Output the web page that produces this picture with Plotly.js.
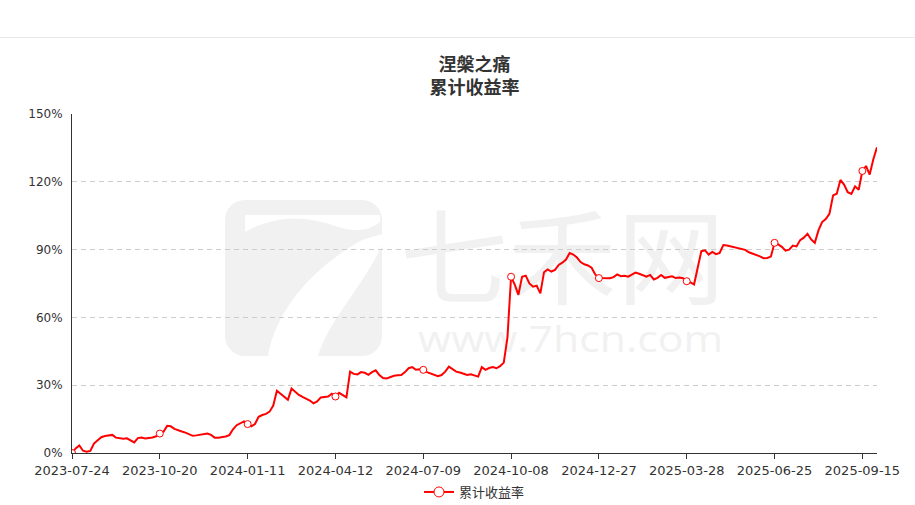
<!DOCTYPE html>
<html>
<head>
<meta charset="utf-8">
<script src="https://cdn.plot.ly/plotly-3.0.1.min.js"></script>
<style>
  html, body { margin: 0; padding: 0; background: #ffffff; }
  #wrap { position: relative; width: 915px; height: 505px; overflow: hidden; }
  #bg { position: absolute; left: 0; top: 0; z-index: 0; }
  #chart { position: absolute; left: 0; top: 0; width: 915px; height: 505px; z-index: 1; }
</style>
</head>
<body>
<div id="wrap">
  <svg id="bg" width="915" height="505" xmlns="http://www.w3.org/2000/svg">
    <line x1="0" y1="37.5" x2="915" y2="37.5" stroke="#e8e8e8" stroke-width="1"/>
    <rect x="225" y="200" width="157" height="156" rx="20" ry="20" fill="#f1f1f1"/>
    <path d="M245,215 L380,215 L380,222 C368,232 352,232 335,226 C305,215 275,215 245,232 Z" fill="#ffffff"/>
    <path d="M362,240 L382,234 L382,246 C360,290 328,322 318,356 L268,356 C276,310 312,268 362,240 Z" fill="#ffffff"/>
    <text x="400" y="297" font-family="Noto Sans CJK SC" font-size="104" fill="#f1f1f1" textLength="325" lengthAdjust="spacingAndGlyphs">七禾网</text>
    <text x="418" y="352" font-family="Open Sans" font-size="36" fill="#f1f1f1" textLength="305" lengthAdjust="spacingAndGlyphs">www.7hcn.com</text>
  </svg>
  <div id="chart"></div>
</div>
<script>
// ---- data ----
const seriesName = '累计收益率';
const chartTitle = '涅槃之痛<br>累计收益率';

const dates = [
  '2023-07-24','2023-07-27','2023-07-31','2023-08-03','2023-08-07','2023-08-10','2023-08-14','2023-08-17',
  '2023-08-21','2023-08-24','2023-08-28','2023-08-31','2023-09-04','2023-09-07','2023-09-11','2023-09-14',
  '2023-09-18','2023-09-21','2023-09-25','2023-09-28','2023-10-09','2023-10-12','2023-10-16','2023-10-18',
  '2023-10-20','2023-10-24','2023-10-26','2023-10-30','2023-11-02','2023-11-06','2023-11-09','2023-11-13',
  '2023-11-16','2023-11-20','2023-11-23','2023-11-27','2023-11-30','2023-12-04','2023-12-07','2023-12-11',
  '2023-12-14','2023-12-18','2023-12-21','2023-12-25','2023-12-28','2024-01-02','2024-01-05','2024-01-08',
  '2024-01-11','2024-01-15','2024-01-18','2024-01-22','2024-01-25','2024-01-29','2024-02-01','2024-02-05',
  '2024-02-08','2024-02-20','2024-02-22','2024-02-26','2024-02-29','2024-03-04','2024-03-07','2024-03-11',
  '2024-03-14','2024-03-18','2024-03-21','2024-03-25','2024-03-28','2024-04-01','2024-04-03','2024-04-09',
  '2024-04-12','2024-04-16','2024-04-18','2024-04-22','2024-04-25','2024-04-29','2024-05-07','2024-05-09',
  '2024-05-13','2024-05-16','2024-05-20','2024-05-23','2024-05-27','2024-05-30','2024-06-03','2024-06-06',
  '2024-06-11','2024-06-13','2024-06-17','2024-06-20','2024-06-24','2024-06-27','2024-07-01','2024-07-04',
  '2024-07-09','2024-07-11','2024-07-15','2024-07-18','2024-07-22','2024-07-25','2024-07-29','2024-08-01',
  '2024-08-05','2024-08-08','2024-08-12','2024-08-15','2024-08-19','2024-08-22','2024-08-26','2024-08-29',
  '2024-09-02','2024-09-05','2024-09-09','2024-09-12','2024-09-18','2024-09-23','2024-09-26','2024-09-30',
  '2024-10-08','2024-10-10','2024-10-14','2024-10-17','2024-10-21','2024-10-24','2024-10-28','2024-10-31',
  '2024-11-04','2024-11-07','2024-11-11','2024-11-14','2024-11-18','2024-11-21','2024-11-25','2024-11-28',
  '2024-12-02','2024-12-05','2024-12-09','2024-12-12','2024-12-16','2024-12-19','2024-12-23','2024-12-25',
  '2024-12-27','2024-12-31','2025-01-03','2025-01-07','2025-01-10','2025-01-14','2025-01-17','2025-01-21',
  '2025-01-24','2025-02-05','2025-02-07','2025-02-11','2025-02-14','2025-02-18','2025-02-21','2025-02-25',
  '2025-02-28','2025-03-04','2025-03-07','2025-03-11','2025-03-14','2025-03-18','2025-03-21','2025-03-25',
  '2025-03-28','2025-04-01','2025-04-03','2025-04-08','2025-04-10','2025-04-14','2025-04-17','2025-04-21',
  '2025-04-24','2025-04-28','2025-05-06','2025-05-08','2025-05-12','2025-05-15','2025-05-19','2025-05-22',
  '2025-05-26','2025-05-29','2025-06-03','2025-06-06','2025-06-10','2025-06-13','2025-06-17','2025-06-20',
  '2025-06-25','2025-06-27','2025-07-01','2025-07-03','2025-07-07','2025-07-10','2025-07-14','2025-07-17',
  '2025-07-21','2025-07-24','2025-07-28','2025-07-31','2025-08-04','2025-08-07','2025-08-11','2025-08-14',
  '2025-08-18','2025-08-21','2025-08-25','2025-08-28','2025-09-01','2025-09-04','2025-09-08','2025-09-11',
  '2025-09-15','2025-09-18','2025-09-22','2025-09-25','2025-09-29'
];

// cumulative return, %
const cumReturn = [
  0.0, 2.0, 3.3, 1.0, 0.6, 0.9, 4.2, 5.5,
  7.0, 7.5, 7.8, 8.0, 6.8, 6.6, 6.3, 6.5,
  5.5, 4.7, 6.6, 6.8, 6.4, 6.6, 6.9, 7.4,
  8.6, 9.4, 12.0, 11.8, 10.7, 10.0, 9.5, 9.0,
  8.2, 7.6, 7.8, 8.0, 8.1, 8.6, 8.0, 6.8,
  6.8, 6.9, 7.3, 7.9, 10.5, 12.3, 13.0, 14.0,
  12.8, 11.8, 12.8, 16.0, 16.8, 17.3, 18.3, 21.0,
  27.5, 26.3, 25.0, 23.5, 28.5, 27.0, 25.7, 24.8,
  24.0, 23.2, 22.0, 22.8, 24.6, 24.8, 25.0, 26.2,
  25.0, 26.6, 25.7, 24.6, 36.0, 35.0, 34.8, 35.8,
  35.5, 34.6, 35.8, 36.6, 34.5, 33.2, 33.0, 33.6,
  34.2, 34.4, 34.5, 35.8, 37.5, 38.0, 36.8, 37.0,
  36.8, 35.8, 35.2, 34.6, 34.0, 34.5, 36.0, 38.2,
  37.2, 36.0, 35.6, 35.2, 34.5, 34.8, 34.4, 33.8,
  38.0, 36.8, 37.6, 38.0, 37.5, 38.4, 40.0, 51.0,
  78.0, 74.5, 70.0, 78.0, 78.5, 75.0, 73.6, 74.0,
  70.6, 80.0, 81.2, 80.3, 81.0, 83.2, 84.2, 85.6,
  88.5, 87.8, 86.5, 84.5, 83.5, 83.0, 82.0, 79.0,
  77.4, 77.3, 77.2, 77.3, 77.8, 79.0, 78.2, 78.4,
  78.0, 78.8, 79.8, 79.3, 78.5, 78.0, 78.8, 76.8,
  77.5, 78.8, 77.5, 78.0, 78.2, 77.4, 77.6, 77.3,
  76.0, 75.5, 74.6, 82.0, 89.3, 89.7, 87.8, 89.0,
  88.0, 88.5, 92.0, 91.8, 91.4, 91.0, 90.6, 90.3,
  89.9, 88.8, 88.2, 87.9, 87.0, 86.2, 86.3, 86.9,
  93.0, 92.3, 91.2, 89.5, 90.0, 91.8, 91.4, 94.2,
  95.3, 97.0, 94.5, 93.0, 98.5, 102.2, 103.5, 105.8,
  114.0, 114.7, 120.8, 118.8, 115.4, 114.6, 118.0, 116.5,
  124.8, 127.0, 123.2, 130.0, 135.3
];

const xTickLabels = ['2023-07-24','2023-10-20','2024-01-11','2024-04-12','2024-07-09',
                     '2024-10-08','2024-12-27','2025-03-28','2025-06-25','2025-09-15'];
const yTickValues = [0, 30, 60, 90, 120, 150];
const yTickLabels = ['0%', '30%', '60%', '90%', '120%', '150%'];

// ---- chart ----
const lineColor = '#ff0000';
const markY = xTickLabels.map(d => cumReturn[dates.indexOf(d)]);

const traces = [
  {
    type: 'scatter', mode: 'lines', x: dates, y: cumReturn, name: seriesName,
    line: { color: lineColor, width: 2 }, showlegend: false, hoverinfo: 'skip'
  },
  {
    type: 'scatter', mode: 'markers', x: xTickLabels, y: markY, name: seriesName,
    marker: { symbol: 'circle', size: 7, color: '#ffffff', line: { color: lineColor, width: 1 } },
    showlegend: false, hoverinfo: 'skip'
  },
  {
    type: 'scatter', mode: 'lines+markers', x: [null], y: [null], name: seriesName,
    line: { color: lineColor, width: 2 },
    marker: { symbol: 'circle', size: 10, color: '#ffffff', line: { color: lineColor, width: 1 } },
    showlegend: true, hoverinfo: 'skip'
  }
];

const layout = {
  width: 915, height: 505,
  margin: { l: 72, r: 38, t: 114, b: 52, pad: 0 },
  paper_bgcolor: 'rgba(0,0,0,0)',
  plot_bgcolor: 'rgba(0,0,0,0)',
  hovermode: false,
  title: {
    text: '<b>' + chartTitle + '</b>',
    font: { family: 'Noto Sans CJK SC, sans-serif', size: 18, color: '#333333' },
    x: 0.5, xref: 'paper', xanchor: 'center',
    y: 1 - 71 / 505, yref: 'container', yanchor: 'middle'
  },
  xaxis: {
    type: 'category',
    range: [0, dates.length - 1],
    tickmode: 'array', tickvals: xTickLabels, ticktext: xTickLabels,
    ticks: 'outside', ticklen: 5, tickcolor: '#333333', tickwidth: 1,
    showline: true, linecolor: '#333333', linewidth: 1,
    showgrid: false, zeroline: false,
    tickfont: { family: 'DejaVu Sans, sans-serif', size: 13, color: '#333333' },
    automargin: false
  },
  yaxis: {
    range: [0, 150],
    tickmode: 'array', tickvals: yTickValues, ticktext: yTickLabels,
    showline: true, linecolor: '#333333', linewidth: 1,
    showgrid: true, gridcolor: '#cccccc', gridwidth: 1, griddash: '5px,4px',
    zeroline: false, ticks: '',
    ticklabelstandoff: 6,
    tickfont: { family: 'DejaVu Sans, sans-serif', size: 12, color: '#333333' },
    automargin: false
  },
  showlegend: true,
  legend: {
    orientation: 'h', x: 0.5, xanchor: 'center', xref: 'paper',
    y: 1 - 492 / 505, yref: 'container', yanchor: 'middle',
    font: { family: 'Noto Sans CJK SC, sans-serif', size: 13, color: '#333333' },
    bgcolor: 'rgba(0,0,0,0)', itemwidth: 30
  }
};

Plotly.newPlot('chart', traces, layout, { displayModeBar: false, staticPlot: true });
</script>
</body>
</html>
